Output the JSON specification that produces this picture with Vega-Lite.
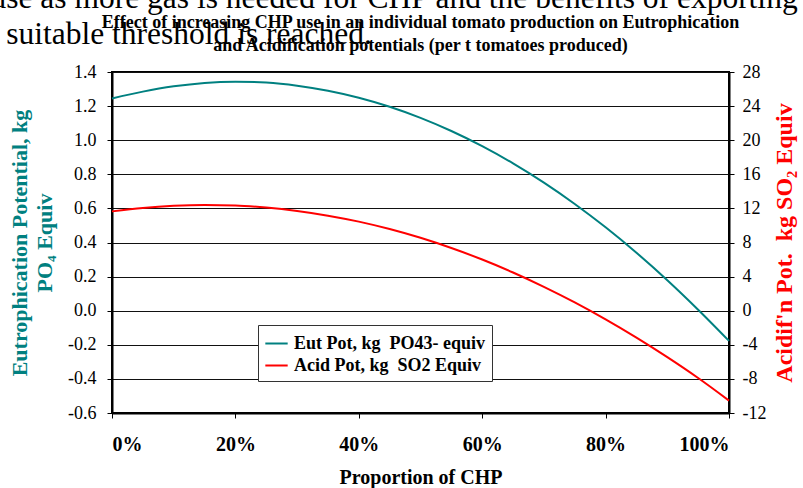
{
  "$schema": "https://vega.github.io/schema/vega-lite/v6.json",
  "width": 617,
  "height": 341,
  "autosize": {"type": "none"},
  "padding": {"left": 112, "top": 72, "right": 74, "bottom": 75},
  "background": "white",
  "title": {
    "text": ["Effect of increasing CHP use in an individual tomato production on Eutrophication", "and Acidification potentials (per t tomatoes produced)"],
    "font": "Liberation Serif",
    "fontSize": 18,
    "fontWeight": "bold",
    "color": "black",
    "anchor": "middle",
    "frame": "group",
    "lineHeight": 23,
    "offset": 0,
    "dy": 73
  },
  "data": {
    "values": [
      {"p": 0.00, "s": "Eut Pot, kg  PO43- equiv", "v": 1.245},
      {"p": 0.05, "s": "Eut Pot, kg  PO43- equiv", "v": 1.285},
      {"p": 0.10, "s": "Eut Pot, kg  PO43- equiv", "v": 1.316},
      {"p": 0.15, "s": "Eut Pot, kg  PO43- equiv", "v": 1.336},
      {"p": 0.20, "s": "Eut Pot, kg  PO43- equiv", "v": 1.343},
      {"p": 0.25, "s": "Eut Pot, kg  PO43- equiv", "v": 1.338},
      {"p": 0.30, "s": "Eut Pot, kg  PO43- equiv", "v": 1.320},
      {"p": 0.35, "s": "Eut Pot, kg  PO43- equiv", "v": 1.290},
      {"p": 0.40, "s": "Eut Pot, kg  PO43- equiv", "v": 1.249},
      {"p": 0.45, "s": "Eut Pot, kg  PO43- equiv", "v": 1.196},
      {"p": 0.50, "s": "Eut Pot, kg  PO43- equiv", "v": 1.131},
      {"p": 0.55, "s": "Eut Pot, kg  PO43- equiv", "v": 1.054},
      {"p": 0.60, "s": "Eut Pot, kg  PO43- equiv", "v": 0.965},
      {"p": 0.65, "s": "Eut Pot, kg  PO43- equiv", "v": 0.864},
      {"p": 0.70, "s": "Eut Pot, kg  PO43- equiv", "v": 0.751},
      {"p": 0.75, "s": "Eut Pot, kg  PO43- equiv", "v": 0.626},
      {"p": 0.80, "s": "Eut Pot, kg  PO43- equiv", "v": 0.489},
      {"p": 0.85, "s": "Eut Pot, kg  PO43- equiv", "v": 0.340},
      {"p": 0.90, "s": "Eut Pot, kg  PO43- equiv", "v": 0.179},
      {"p": 0.95, "s": "Eut Pot, kg  PO43- equiv", "v": 0.006},
      {"p": 1.00, "s": "Eut Pot, kg  PO43- equiv", "v": -0.177},
      {"p": 0.00, "s": "Acid Pot, kg  SO2 Equiv", "v": 11.65},
      {"p": 0.05, "s": "Acid Pot, kg  SO2 Equiv", "v": 12.05},
      {"p": 0.10, "s": "Acid Pot, kg  SO2 Equiv", "v": 12.30},
      {"p": 0.15, "s": "Acid Pot, kg  SO2 Equiv", "v": 12.40},
      {"p": 0.20, "s": "Acid Pot, kg  SO2 Equiv", "v": 12.35},
      {"p": 0.25, "s": "Acid Pot, kg  SO2 Equiv", "v": 12.10},
      {"p": 0.30, "s": "Acid Pot, kg  SO2 Equiv", "v": 11.70},
      {"p": 0.35, "s": "Acid Pot, kg  SO2 Equiv", "v": 11.15},
      {"p": 0.40, "s": "Acid Pot, kg  SO2 Equiv", "v": 10.45},
      {"p": 0.45, "s": "Acid Pot, kg  SO2 Equiv", "v": 9.58},
      {"p": 0.50, "s": "Acid Pot, kg  SO2 Equiv", "v": 8.55},
      {"p": 0.55, "s": "Acid Pot, kg  SO2 Equiv", "v": 7.35},
      {"p": 0.60, "s": "Acid Pot, kg  SO2 Equiv", "v": 6.00},
      {"p": 0.65, "s": "Acid Pot, kg  SO2 Equiv", "v": 4.48},
      {"p": 0.70, "s": "Acid Pot, kg  SO2 Equiv", "v": 2.80},
      {"p": 0.75, "s": "Acid Pot, kg  SO2 Equiv", "v": 0.97},
      {"p": 0.80, "s": "Acid Pot, kg  SO2 Equiv", "v": -1.02},
      {"p": 0.85, "s": "Acid Pot, kg  SO2 Equiv", "v": -3.16},
      {"p": 0.90, "s": "Acid Pot, kg  SO2 Equiv", "v": -5.45},
      {"p": 0.95, "s": "Acid Pot, kg  SO2 Equiv", "v": -7.90},
      {"p": 1.00, "s": "Acid Pot, kg  SO2 Equiv", "v": -10.55}
    ]
  },
  "layer": [
    {
      "transform": [{"filter": "datum.s === 'Eut Pot, kg  PO43- equiv'"}],
      "mark": {"type": "line", "strokeWidth": 2, "interpolate": "monotone"},
      "encoding": {
        "x": {
          "field": "p",
          "type": "quantitative",
          "scale": {"domain": [0, 1], "nice": false, "zero": false},
          "axis": {
            "orient": "bottom",
            "values": [0, 0.2, 0.4, 0.6, 0.8, 1],
            "format": ".0%",
            "grid": false,
            "labelFontWeight": "bold",
            "labelFontSize": 20,
            "labelPadding": 16,
            "title": "Proportion of CHP",
            "titleFontSize": 20,
            "titlePadding": 13
          }
        },
        "y": {
          "field": "v",
          "type": "quantitative",
          "scale": {"domain": [-0.6, 1.4], "nice": false, "zero": false},
          "axis": {
            "orient": "left",
            "values": [-0.6, -0.4, -0.2, 0, 0.2, 0.4, 0.6, 0.8, 1.0, 1.2, 1.4],
            "labelExpr": "datum.value < -0.0001 ? '-' + format(-datum.value, '.1f') : format(abs(datum.value), '.1f')",
            "labelPadding": 11,
            "grid": true,
            "gridColor": "#111111",
            "gridWidth": 1,
            "title": ["Eutrophication Potential, kg", "PO₄ Equiv"],
            "titleColor": "#008080",
            "titleFontSize": 22,
            "titleLineHeight": 25,
            "titlePadding": 11
          }
        },
        "color": {
          "field": "s",
          "type": "nominal",
          "scale": {
            "domain": ["Eut Pot, kg  PO43- equiv", "Acid Pot, kg  SO2 Equiv"],
            "range": ["#008080", "#ff0000"]
          },
          "legend": {
            "orient": "none",
            "legendX": 146,
            "legendY": 253,
            "title": null,
            "labelExpr": "replace(datum.label, '  ', '\u00a0 ')",
            "strokeColor": "#333333",
            "fillColor": "white",
            "padding": 6,
            "symbolType": "stroke",
            "symbolSize": 500,
            "symbolStrokeWidth": 2,
            "labelFont": "Liberation Serif",
            "labelFontSize": 18,
            "labelFontWeight": "bold",
            "labelColor": "black",
            "labelOffset": 5,
            "labelLimit": 400,
            "rowPadding": 0
          }
        }
      }
    },
    {
      "transform": [{"filter": "datum.s === 'Acid Pot, kg  SO2 Equiv'"}],
      "mark": {"type": "line", "strokeWidth": 2, "interpolate": "monotone"},
      "encoding": {
        "x": {
          "field": "p",
          "type": "quantitative",
          "scale": {"domain": [0, 1], "nice": false, "zero": false},
          "axis": {
            "orient": "top",
            "labels": false,
            "ticks": false,
            "domain": false,
            "grid": false,
            "title": ["use as more gas is needed for CHP and the benefits of exporting", "\u200b\u00a0\u00a0suitable threshold is reached."],
            "titleFont": "Liberation Serif",
            "titleFontSize": 31.5,
            "titleFontWeight": "normal",
            "titleColor": "black",
            "titleX": -122,
            "titleY": -65,
            "titleAlign": "left",
            "titleBaseline": "alphabetic",
            "titleLineHeight": 36,
            "titleAngle": 0
          }
        },
        "y": {
          "field": "v",
          "type": "quantitative",
          "scale": {"domain": [-12, 28], "nice": false, "zero": false},
          "axis": {
            "orient": "right",
            "values": [-12, -8, -4, 0, 4, 8, 12, 16, 20, 24, 28],
            "labelExpr": "datum.value < 0 ? '-' + format(-datum.value, 'd') : format(datum.value, 'd')",
            "labelPadding": 8,
            "grid": false,
            "title": "Acidif'n Pot.\u00a0 kg SO₂ Equiv",
            "titleColor": "#ff0000",
            "titleFontSize": 24,
            "titleAngle": 270,
            "titlePadding": 31
          }
        },
        "color": {
          "field": "s",
          "type": "nominal",
          "scale": {
            "domain": ["Eut Pot, kg  PO43- equiv", "Acid Pot, kg  SO2 Equiv"],
            "range": ["#008080", "#ff0000"]
          }
        }
      }
    }
  ],
  "resolve": {
    "scale": {"y": "independent"},
    "axis": {"y": "independent", "x": "independent"}
  },
  "config": {
    "view": {"stroke": "black", "strokeWidth": 2},
    "axis": {
      "domainColor": "black",
      "domainWidth": 2,
      "tickColor": "black",
      "tickSize": 5,
      "tickWidth": 1,
      "labelFont": "Liberation Serif",
      "labelFontSize": 18,
      "labelColor": "black",
      "labelPadding": 6,
      "titleFont": "Liberation Serif",
      "titleFontWeight": "bold",
      "titleColor": "black"
    }
  }
}
